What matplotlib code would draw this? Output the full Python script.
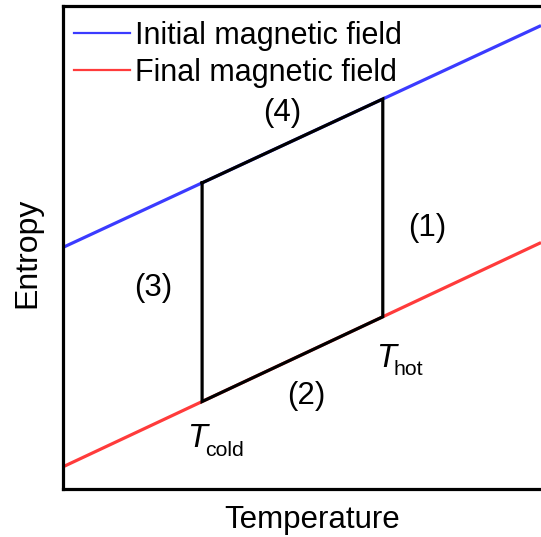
import numpy as np
import matplotlib.pyplot as plt
from matplotlib.lines import Line2D

plt.rcParams["font.family"] = ["Liberation Sans", "DejaVu Sans"]

# field lines (temperature, entropy) in arbitrary units
temp_ends = [0.0, 10.0]
s_initial = [5.0, 9.6]
s_final = [0.45, 5.1]

T_COLD = 2.91
T_HOT = 6.69

step_labels = ["(1)", "(2)", "(3)", "(4)"]
step_pos = [(7.62, 5.40), (5.08, 1.92), (1.88, 4.16), (4.58, 7.79)]

BLUE = "#3b3bff"
RED = "#ff3b3b"
LW = 2.3
FS = 22.5


def line_at(t, ends, vals):
    return float(np.interp(t, ends, vals))


fig = plt.figure(figsize=(5.41, 5.37), dpi=100, facecolor="white")
ax = fig.add_axes([63 / 541, 48.5 / 537, 478 / 541, 482.2 / 537])

ax.plot(temp_ends, s_initial, color=BLUE, lw=LW, solid_capstyle="butt", zorder=2)
ax.plot(temp_ends, s_final, color=RED, lw=LW, solid_capstyle="butt", zorder=2)

# the cycle
top_c = line_at(T_COLD, temp_ends, s_initial)
top_h = line_at(T_HOT, temp_ends, s_initial)
bot_c = line_at(T_COLD, temp_ends, s_final)
bot_h = line_at(T_HOT, temp_ends, s_final)
cx = [T_COLD, T_HOT, T_HOT, T_COLD, T_COLD]
cy = [top_c, top_h, bot_h, bot_c, top_c]
ax.plot(cx, cy, color="black", lw=LW, solid_joinstyle="miter", zorder=3)

for lab, (x, y) in zip(step_labels, step_pos):
    ax.text(x, y, lab, fontsize=FS, ha="center", va="center")

# temperature markers
ax.text(2.59, 0.86, "T", fontsize=23.5, style="italic", ha="left", va="baseline")
ax.text(2.97, 0.67, "cold", fontsize=15.3, ha="left", va="baseline")
ax.text(6.55, 2.52, "T", fontsize=23.5, style="italic", ha="left", va="baseline")
ax.text(6.92, 2.35, "hot", fontsize=15.3, ha="left", va="baseline")

ax.set_xlim(0, 10)
ax.set_ylim(0, 10)
ax.set_xticks([])
ax.set_yticks([])
ax.text(0.521, -0.082, "Temperature", fontsize=FS, ha="center", va="baseline",
        transform=ax.transAxes)
ax.text(-0.0743, 0.489, "Entropy", fontsize=23, rotation=90, ha="center",
        va="center", transform=ax.transAxes)

for side in ["left", "bottom", "top"]:
    ax.spines[side].set_linewidth(2.3)
ax.spines["right"].set_visible(False)

handles = [Line2D([], [], color=BLUE, lw=1.6), Line2D([], [], color=RED, lw=1.6)]
ax.legend(handles, ["Initial magnetic field", "Final magnetic field"],
          loc="upper left", bbox_to_anchor=(0.022, 0.970), frameon=False,
          fontsize=22, handlelength=1.86, handletextpad=0.15, labelspacing=0.23,
          borderaxespad=0.0, borderpad=0.0)

fig.savefig("out.png", dpi=100, facecolor="white")
